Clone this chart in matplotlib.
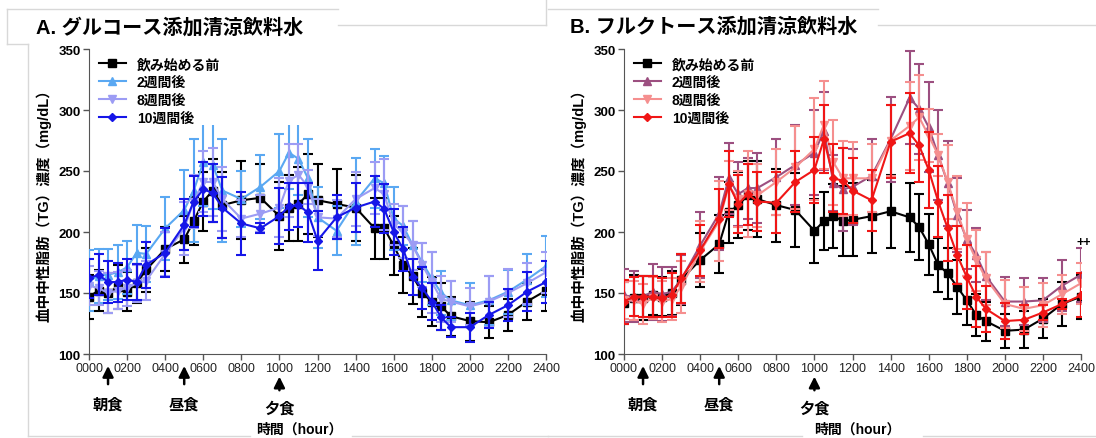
import matplotlib
matplotlib.use('Agg')
import matplotlib.pyplot as plt
from matplotlib.patches import Rectangle
from matplotlib.lines import Line2D

plt.rcParams['font.family'] = ['Liberation Sans', 'Noto Sans CJK JP']

# sampling times (hours after start)
hours = [0, 0.5, 1, 1.5, 2, 2.5, 3, 4, 5, 5.5, 6, 6.5, 7, 8, 9, 10, 10.5, 11, 11.5, 12,
         13, 14, 15, 15.5, 16, 16.5, 17, 17.5, 18, 18.5, 19, 20, 21, 22, 23, 24]
xtick_labels = ['0000', '0200', '0400', '0600', '0800', '1000', '1200',
                '1400', '1600', '1800', '2000', '2200', '2400']
series_labels = ['飲み始める前', '2週間後', '8週間後', '10週間後']
meal_hours = [1, 5, 10]
meal_labels = ['朝食', '昼食', '夕食']

# A. glucose drink
g_pre = [147, 152, 150, 155, 151, 158, 169, 186, 194, 209, 225, 234, 222, 226, 228, 213, 220, 223, 231, 226,
         223, 220, 203, 203, 189, 173, 164, 150, 143, 139, 131, 127, 126, 132, 143, 152]
g_pre_err = [18, 17, 16, 18, 16, 16, 18, 18, 19, 20, 24, 26, 27, 32, 28, 28, 27, 30, 33, 30,
             29, 27, 25, 25, 24, 23, 23, 20, 20, 19, 16, 16, 13, 13, 15, 17]
g_2w = [160, 164, 165, 167, 171, 183, 182, 203, 218, 234, 257, 255, 234, 227, 237, 250, 265, 260, 244, 212,
        201, 225, 244, 240, 211, 205, 189, 175, 162, 150, 144, 140, 144, 151, 161, 172]
g_2w_err = [25, 22, 21, 22, 22, 23, 23, 26, 33, 42, 36, 36, 42, 23, 26, 30, 30, 30, 32, 25,
            20, 36, 24, 22, 26, 16, 20, 16, 22, 18, 16, 18, 20, 18, 21, 25]
g_8w = [156, 154, 150, 152, 154, 158, 160, 182, 203, 225, 241, 241, 227, 211, 215, 220, 242, 247, 237, 212,
        211, 227, 236, 231, 206, 200, 189, 173, 159, 145, 143, 139, 143, 150, 158, 167]
g_8w_err = [16, 14, 16, 15, 15, 15, 16, 18, 22, 22, 25, 28, 26, 15, 15, 24, 30, 25, 14, 15,
            15, 22, 21, 29, 17, 21, 20, 18, 25, 19, 17, 15, 21, 20, 17, 17]
g_10w = [162, 165, 159, 159, 161, 159, 173, 183, 206, 225, 235, 232, 220, 207, 203, 213, 221, 222, 216, 193,
         212, 220, 225, 219, 200, 186, 163, 154, 143, 130, 122, 122, 132, 140, 151, 159]
g_10w_err = [16, 17, 17, 16, 17, 15, 19, 20, 21, 21, 22, 24, 25, 26, 4, 23, 19, 18, 24, 24,
             18, 20, 21, 20, 19, 18, 15, 17, 15, 10, 8, 12, 11, 13, 16, 17]

# B. fructose drink
f_pre = [142, 146, 146, 148, 147, 150, 161, 177, 190, 216, 222, 230, 227, 222, 218, 201, 209, 213, 209, 210,
         213, 217, 212, 204, 190, 173, 166, 155, 144, 132, 127, 119, 120, 129, 141, 147]
f_pre_err = [17, 19, 18, 16, 16, 18, 21, 22, 24, 25, 27, 28, 31, 30, 30, 26, 24, 26, 29, 30,
             30, 30, 28, 27, 25, 22, 21, 22, 20, 17, 16, 14, 15, 16, 18, 18]
f_2w = [148, 147, 147, 151, 149, 151, 161, 189, 215, 244, 231, 236, 236, 245, 255, 265, 283, 240, 235, 237,
        246, 276, 310, 301, 286, 263, 240, 214, 194, 181, 164, 143, 143, 144, 156, 165]
f_2w_err = [22, 21, 17, 23, 22, 20, 20, 27, 30, 29, 26, 25, 29, 31, 33, 35, 32, 23, 34, 31,
            30, 35, 38, 37, 37, 37, 35, 30, 24, 22, 20, 20, 19, 18, 21, 22]
f_8w = [144, 144, 141, 146, 143, 145, 155, 184, 209, 238, 227, 231, 230, 241, 253, 268, 288, 257, 244, 244,
        244, 275, 287, 294, 279, 263, 241, 216, 194, 177, 162, 141, 137, 140, 149, 158]
f_8w_err = [15, 16, 16, 17, 17, 17, 21, 25, 33, 20, 23, 35, 26, 27, 34, 42, 36, 35, 31, 30,
            28, 29, 36, 35, 22, 17, 30, 30, 30, 25, 22, 20, 18, 18, 16, 17]
f_10w = [143, 147, 147, 147, 146, 148, 162, 185, 211, 239, 223, 231, 225, 224, 241, 251, 276, 244, 242, 234,
         226, 274, 281, 271, 251, 225, 203, 181, 163, 147, 137, 127, 128, 134, 141, 148]
f_10w_err = [18, 16, 17, 17, 16, 18, 20, 21, 24, 27, 24, 25, 24, 25, 25, 27, 28, 28, 27, 27,
             25, 30, 33, 30, 31, 29, 27, 24, 26, 25, 19, 15, 12, 6, 4, 18]


def draw_panel(ax, data, errs, colors, title, title_x, xlabel_x):
    markers = ['s', '^', 'v', 'D']
    sizes = [6, 5.5, 5.5, 4]
    for i in range(4):
        ax.errorbar(hours, data[i], yerr=errs[i], color=colors[i], marker=markers[i],
                    ms=sizes[i], lw=1.5, elinewidth=1.5, capsize=3.5, capthick=1.5,
                    zorder=3 + i)

    ax.set_xlim(0, 24)
    ax.set_ylim(100, 350)
    ax.set_xticks(range(0, 25, 2))
    ax.set_xticklabels(xtick_labels, fontsize=9, color='#222222')
    ax.set_yticks(range(100, 351, 50))
    ax.set_yticklabels([str(v) for v in range(100, 351, 50)], fontsize=9.5, fontweight='bold')
    ax.tick_params(direction='out', length=4, width=1, color='#555555', pad=2)
    for s in ['top', 'right']:
        ax.spines[s].set_visible(False)
    for s in ['left', 'bottom']:
        ax.spines[s].set_color('#555555')

    ax.set_ylabel('血中中性脂肪（TG）濃度（mg/dL）', fontsize=10.5, fontweight='bold')
    ax.yaxis.set_label_coords(-0.083, 0.5)
    ax.set_xlabel('時間（hour）', fontsize=10, fontweight='bold')
    ax.xaxis.set_label_coords(xlabel_x, -0.222)

    handles = [Line2D([], [], color=colors[i], marker=markers[i], ms=sizes[i], lw=1.5) for i in range(4)]
    leg = ax.legend(handles, series_labels, loc='upper left', bbox_to_anchor=(-0.005, 1.015),
                    frameon=False, prop={'weight': 'bold', 'size': 10}, handlelength=1.9,
                    handletextpad=0.8, labelspacing=0.28)
    leg.set_zorder(20)

    # meal arrows
    for h, lab in zip(meal_hours, meal_labels):
        y0, y1, yt = (-0.108, -0.03, -0.165) if h != 10 else (-0.128, -0.065, -0.178)
        ax.annotate('', xy=(h, y1), xytext=(h, y0), xycoords=('data', 'axes fraction'),
                    arrowprops=dict(arrowstyle='-|>', color='black', lw=1.8, mutation_scale=16),
                    annotation_clip=False)
        ax.text(h, yt, lab, transform=ax.get_xaxis_transform(), ha='center', va='center',
                fontsize=11, fontweight='bold')

    ax.figure.text(title_x, 0.938, title, fontsize=14.5, fontweight='bold', ha='left', va='center')


fig = plt.figure(figsize=(10.96, 4.39), dpi=100)
W, H = 1096, 439
axA = fig.add_axes([89 / W, 84 / H, 457 / W, 305 / H])
axB = fig.add_axes([624 / W, 84 / H, 457 / W, 305 / H])

draw_panel(axA, [g_pre, g_2w, g_8w, g_10w], [g_pre_err, g_2w_err, g_8w_err, g_10w_err],
           ['black', '#5aa8f2', '#9c9cf4', '#1616e8'], 'A. グルコース添加清涼飲料水', 36 / W, 0.46)
draw_panel(axB, [f_pre, f_2w, f_8w, f_10w], [f_pre_err, f_2w_err, f_8w_err, f_10w_err],
           ['black', '#9c4f80', '#f58f8f', '#f01616'], 'B. フルクトース添加清涼飲料水', 570 / W, 0.51)

# the legend box in panel A hides the top of some error bars
axA.add_patch(Rectangle((0.006, 0.752), 0.5, 0.26, transform=axA.transAxes,
                        facecolor='white', edgecolor='none', zorder=15, clip_on=False))

axB.text(24.15, 192, '++', ha='center', va='center', fontsize=9, fontweight='bold')

# faint frame lines from the source screenshot
frame = [((28, 28), (45, 437)), ((28, 250), (437, 437)), ((352, 548), (437, 437)),
         ((7, 338), (10, 10)), ((7, 7), (10, 45)), ((7, 28), (45, 45)), ((338, 546), (26, 26)),
         ((546, 546), (0, 26)), ((548, 878), (10, 10)), ((878, 1096), (26, 26)),
         ((548, 802), (437, 437)), ((923, 1096), (437, 437))]
for xs, ys in frame:
    fig.add_artist(Line2D([x / W for x in xs], [1 - y / H for y in ys], transform=fig.transFigure,
                          color='#d8d8d8', lw=1))

fig.savefig('out.png', dpi=100)
